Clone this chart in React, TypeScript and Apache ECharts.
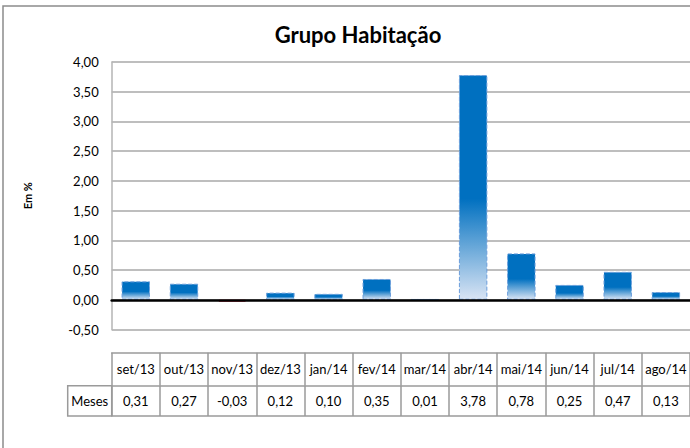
import React, { useEffect, useRef } from "react";
import * as echarts from "echarts";

const categories = ["set/13", "out/13", "nov/13", "dez/13", "jan/14", "fev/14", "mar/14", "abr/14", "mai/14", "jun/14", "jul/14", "ago/14"];
const values = [0.31, 0.27, -0.03, 0.12, 0.10, 0.35, 0.01, 3.78, 0.78, 0.25, 0.47, 0.13];
const rowLabel = "Meses";
const titleText = "Grupo Habitação";
const yName = "Em %";

const fmt = (v: number) => v.toFixed(2).replace(".", ",");
const FONT = "Lato, 'Open Sans', sans-serif";
const GRID_COLOR = "#A8A8A8";
const TABLE_COLOR = "#9A9A9A";

export default function App() {
  const ref = useRef<HTMLDivElement>(null);
  useEffect(() => {
    if (!ref.current) return;
    const chart = echarts.init(ref.current, undefined, { renderer: "svg" });
    const gradient = new echarts.graphic.LinearGradient(0, 0, 0, 1, [
      { offset: 0, color: "#0070C0" },
      { offset: 0.55, color: "#0070C0" },
      { offset: 1, color: "#D9E4F4" },
    ]);
    const barData = values.map((v) =>
      v < 0
        ? { value: v, itemStyle: { color: "#C8001E", borderColor: "#E0203A", borderWidth: 2, borderType: "solid" } }
        : { value: v }
    );
    const gridLeft = 111.7;
    const gridBottomY = 329.5;
    const headerTop = 352.7;
    const valuesTop = 385.7;
    const tableBottom = 416;
    chart.setOption({
      animation: false,
      backgroundColor: "#ffffff",
      title: {
        text: titleText,
        left: 358,
        top: 23,
        textAlign: "center",
        padding: 0,
        textStyle: { fontFamily: FONT, fontWeight: "bold", fontSize: 22, color: "#000" },
      },
      grid: { left: gridLeft, right: -2, top: 62, bottom: 448 - gridBottomY, containLabel: false },
      xAxis: [
        {
          type: "category",
          data: categories,
          position: "bottom",
          axisLine: { onZero: true, lineStyle: { color: "#000", width: 2.6 } },
          axisTick: { show: false },
          axisLabel: { show: false },
          splitLine: { show: false },
          z: 10,
        },
        {
          type: "category",
          data: categories,
          position: "bottom",
          offset: headerTop - gridBottomY,
          axisLine: { onZero: false, lineStyle: { color: TABLE_COLOR, width: 1.5 } },
          axisTick: { show: true, interval: 0, length: valuesTop - headerTop, lineStyle: { color: TABLE_COLOR, width: 1.5 } },
          axisLabel: { interval: 0, margin: 10, color: "#000", fontFamily: FONT, fontSize: 13 },
        },
        {
          type: "category",
          data: values.map(fmt),
          position: "bottom",
          offset: valuesTop - gridBottomY,
          axisLine: { onZero: false, lineStyle: { color: TABLE_COLOR, width: 1.5 } },
          axisTick: { show: true, interval: 0, length: tableBottom - valuesTop, lineStyle: { color: TABLE_COLOR, width: 1.5 } },
          axisLabel: { interval: 0, margin: 9, color: "#000", fontFamily: FONT, fontSize: 13 },
        },
        {
          type: "category",
          data: categories,
          position: "bottom",
          offset: tableBottom - gridBottomY,
          axisLine: { onZero: false, lineStyle: { color: TABLE_COLOR, width: 1.5 } },
          axisTick: { show: false },
          axisLabel: { show: false },
        },
      ],
      yAxis: {
        type: "value",
        min: -0.5,
        max: 4,
        interval: 0.5,
        name: yName,
        nameLocation: "middle",
        nameGap: 79,
        nameRotate: 90,
        nameTextStyle: { fontFamily: FONT, fontWeight: "bold", fontSize: 11, color: "#000" },
        axisLine: { show: true, lineStyle: { color: "#B4B4B4", width: 1.5 } },
        axisTick: { show: false },
        axisLabel: { formatter: (v: number) => fmt(v), margin: 13, color: "#000", fontFamily: FONT, fontSize: 13 },
        splitLine: { show: true, lineStyle: { color: GRID_COLOR, width: 1.6 } },
      },
      series: [
        {
          type: "bar",
          xAxisIndex: 0,
          data: barData,
          barCategoryGap: "41%",
          itemStyle: { color: gradient, borderColor: "#6C9EDB", borderWidth: 1, borderType: "dashed" },
        },
      ],
      graphic: [
        {
          type: "rect",
          shape: { x: 3, y: 6, width: 720, height: 500 },
          style: { fill: "none", stroke: "#8C8C8C", lineWidth: 1.5 },
          silent: true,
        },
        {
          type: "rect",
          shape: { x: 67.7, y: valuesTop, width: gridLeft - 67.7, height: tableBottom - valuesTop },
          style: { fill: "none", stroke: TABLE_COLOR, lineWidth: 1.5 },
          silent: true,
        },
        {
          type: "text",
          x: (67.7 + gridLeft) / 2,
          y: (valuesTop + tableBottom) / 2,
          style: { text: rowLabel, fill: "#000", font: `13px ${FONT}`, align: "center", verticalAlign: "middle" },
          silent: true,
        },
      ],
    });
    return () => chart.dispose();
  }, []);
  return <div ref={ref} style={{ position: "absolute", left: 0, top: 0, width: 690, height: 448, background: "#fff" }} />;
}
